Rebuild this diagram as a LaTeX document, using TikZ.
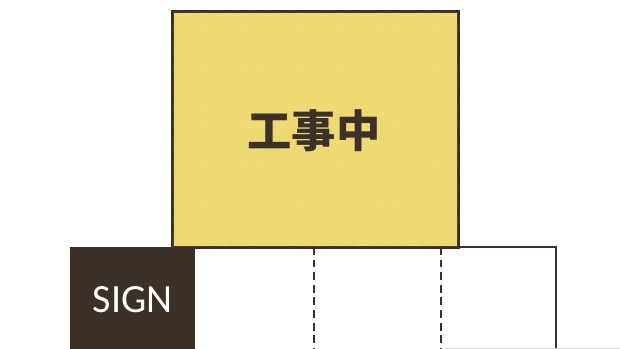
\documentclass[tikz,border=0pt]{standalone}
\usepackage{fontspec}
\setsansfont{Carlito}
\newfontfamily\cjk{Noto Sans CJK JP}
\usetikzlibrary{patterns,calc}
\definecolor{ink}{HTML}{3B3129}
\definecolor{sand}{HTML}{EED86C}
\begin{document}
\begin{tikzpicture}[x=0.05cm,y=-0.05cm]
            \tikzstyle{plate}=[rectangle,draw=ink,line width=3.4pt,inner sep=0pt]
            \tikzstyle{cut}=[draw=ink,line width=2.8pt,dash pattern=on 11pt off 7pt]
                    \useasboundingbox (0,0) rectangle (620,349);

                    % the panel row
                    \node[rectangle,inner sep=0pt,minimum width=18.05cm,minimum height=5.25cm] (panel) at (375.5,299.5) {};
                    \draw[ink,line width=3.6pt] (panel.north west) -- (panel.north east) -- (panel.south east);
                    \node[rectangle,fill=ink,inner sep=0pt,minimum width=6.25cm,minimum height=5.25cm,
                          text=white,font=\sffamily\fontsize{57}{57}\selectfont] (sign) at (132.5,299.5) {SIGN};

                \foreach \i/\t in {1/0.33, 2/0.681}{
                    \coordinate (C-\i-top) at ($(panel.north west)!\t!(panel.north east)$);
                    \coordinate (C-\i-bot) at ($(panel.south west)!\t!(panel.south east)$);
                    \draw[cut] (C-\i-top) -- (C-\i-bot);
                }

                    % the board
                    \node[plate,fill=sand,minimum width=14.25cm,minimum height=11.75cm] (board) at (315.5,129.5) {};
                    \fill[pattern=crosshatch dots,pattern color=white,opacity=0.3]
                          (board.north west) rectangle (board.south east);
                    \draw[ink,line width=3.4pt] (board.north west) rectangle (board.south east);
                    \node[text=ink,font=\cjk\bfseries\fontsize{63}{63}\selectfont] (title) at ($(board.center)+(-1.5,1)$) {工事中};

                    \coordinate (floor-a) at (445,348);
                    \coordinate (floor-b) at (620,348);
                    \draw[gray!30,line width=1.2pt] (floor-a) -- (floor-b);
        \end{tikzpicture}
\end{document}
